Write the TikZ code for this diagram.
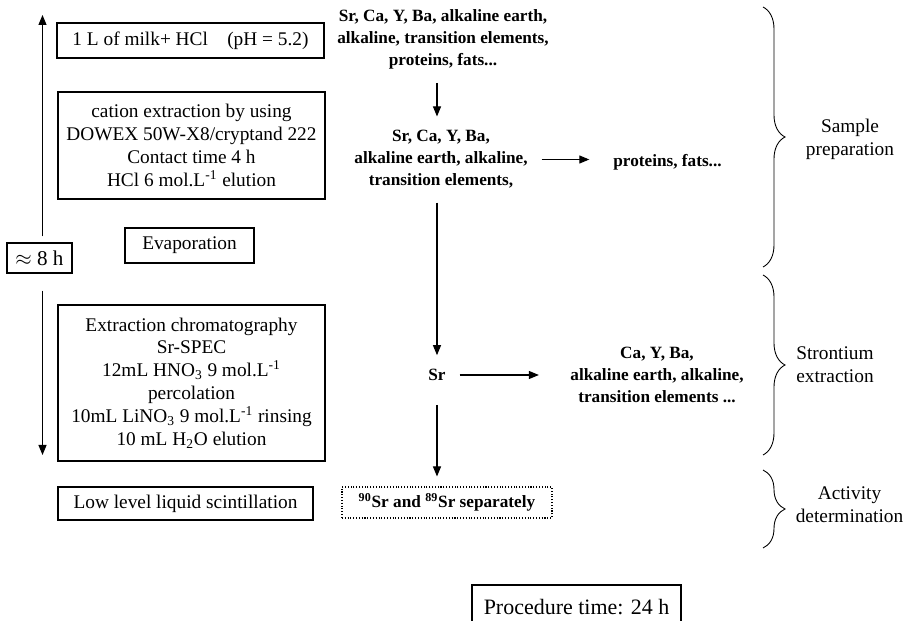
\documentclass[tikz,border=0pt]{standalone}
\usepackage{fontspec}
\setmainfont{Liberation Serif}
\usetikzlibrary{arrows.meta,decorations.pathreplacing}

\begin{document}
\begin{tikzpicture}[%
        line width = 0.6pt,
        font = \fontsize{11}{13}\selectfont,
        stage/.style = {draw, align = center, inner sep = 2pt},
        species/.style = {
            align = center,
            inner sep = 2pt,
            font = \fontsize{9.8}{12.5}\selectfont\bfseries
        },
        phase/.style = {align = center},
        flow/.style = {
            -{Triangle[length = 2mm, width = 1.6mm]},
            shorten < = 2mm,
            shorten > = 2mm
        },
        curly/.style = {
            decorate,
            line width = 0.5pt,
            decoration = {brace, amplitude = 0.44cm}
        }
    ]
        \useasboundingbox (0,0) rectangle (18.18,-12.42);

        % Steps of the procedure, left column.
        \node[stage, minimum width = 5.34cm, minimum height = 0.7cm] (milk) at (3.81,-0.81)
            {1 L of milk+ HCl\quad(pH = 5.2)};
        \node[stage, minimum width = 5.34cm, minimum height = 2.14cm] (cation) at (3.83,-2.91)
            {cation extraction by using\\ DOWEX 50W-X8/cryptand 222\\ Contact time 4 h\\
             HCl 6 mol.L\textsuperscript{-1} elution};
        \node[stage, minimum width = 2.58cm, minimum height = 0.7cm] (evap) at (3.79,-4.91)
            {Evaporation};
        \node[stage, minimum width = 5.34cm, minimum height = 3.12cm] (chrom) at (3.83,-7.66)
            {Extraction chromatography\\ Sr-SPEC\\ 12mL HNO\textsubscript{3} 9 mol.L\textsuperscript{-1}\\
             percolation\\ 10mL LiNO\textsubscript{3} 9 mol.L\textsuperscript{-1} rinsing\\
             10 mL H\textsubscript{2}O elution};
        \node[stage, minimum width = 5.1cm, minimum height = 0.66cm] (count) at (3.71,-10.07)
            {Low level liquid scintillation};

        % Duration of the sample steps.
        \node[stage, minimum width = 1.3cm, minimum height = 0.6cm,
            font = \fontsize{12}{14}\selectfont] (eight) at (0.79,-5.16) {$\approx$ 8 h};
        \coordinate (uptip) at (0.85,-0.3);
        \coordinate (downtip) at (0.85,-9.1);
        \draw[flow, shorten < = 1.2mm, shorten > = 0pt] (eight.north -| uptip) -- (uptip);
        \draw[flow, shorten < = 3.4mm, shorten > = 0pt] (eight.south -| downtip) -- (downtip);

        % What the sample holds after each step.
        \node[species] (mix) at (8.86,-0.78)
            {Sr, Ca, Y, Ba, alkaline earth,\\ alkaline, transition elements,\\ proteins, fats...};
        \node[species] (elem) at (8.82,-3.19)
            {Sr, Ca, Y, Ba,\\ alkaline earth, alkaline,\\ transition elements,};
        \node[species] (prot) at (13.35,-3.24) {proteins, fats...};
        \node[species] (sr) at (8.74,-7.5) {Sr};
        \node[species] (others) at (13.14,-7.5)
            {Ca, Y, Ba,\\ alkaline earth, alkaline,\\ transition elements ...};
        \node[species, draw, densely dotted, minimum width = 4.2cm, minimum height = 0.62cm]
            (sep) at (8.94,-10.05) {\textsuperscript{90}Sr and \textsuperscript{89}Sr separately};

        % Arrows between them.
        \draw[flow] (mix.south -| sr) -- (elem.north -| sr);
        \draw[flow, shorten > = 4mm] (elem.east) -- (elem.east -| prot.west);
        \draw[flow] (elem.south -| sr) -- (sr.north);
        \draw[flow, shorten > = 5.5mm] (sr.east) -- (sr.east -| others.west);
        \draw[flow, shorten < = 4mm] (sr.south) -- (sep.north -| sr);

        % Braces for the phases.
        \draw[curly] (15.26,-0.14) -- (15.26,-5.34);
        \draw[curly] (15.26,-5.5) -- (15.26,-9.1);
        \draw[curly] (15.26,-9.4) -- (15.26,-10.96);
        \node[phase] (prep) at (17.0,-2.78) {Sample\\ preparation};
        \node[phase] (stron) at (16.7,-7.3) {Strontium\\ extraction};
        \node[phase] (activ) at (16.99,-10.1) {Activity\\ determination};

        % Total time.
        \node[stage, minimum width = 4.18cm, minimum height = 0.9cm,
            font = \fontsize{12.5}{14}\selectfont] (total) at (11.53,-12.15) {Procedure time: 24 h};
    \end{tikzpicture}
\end{document}
